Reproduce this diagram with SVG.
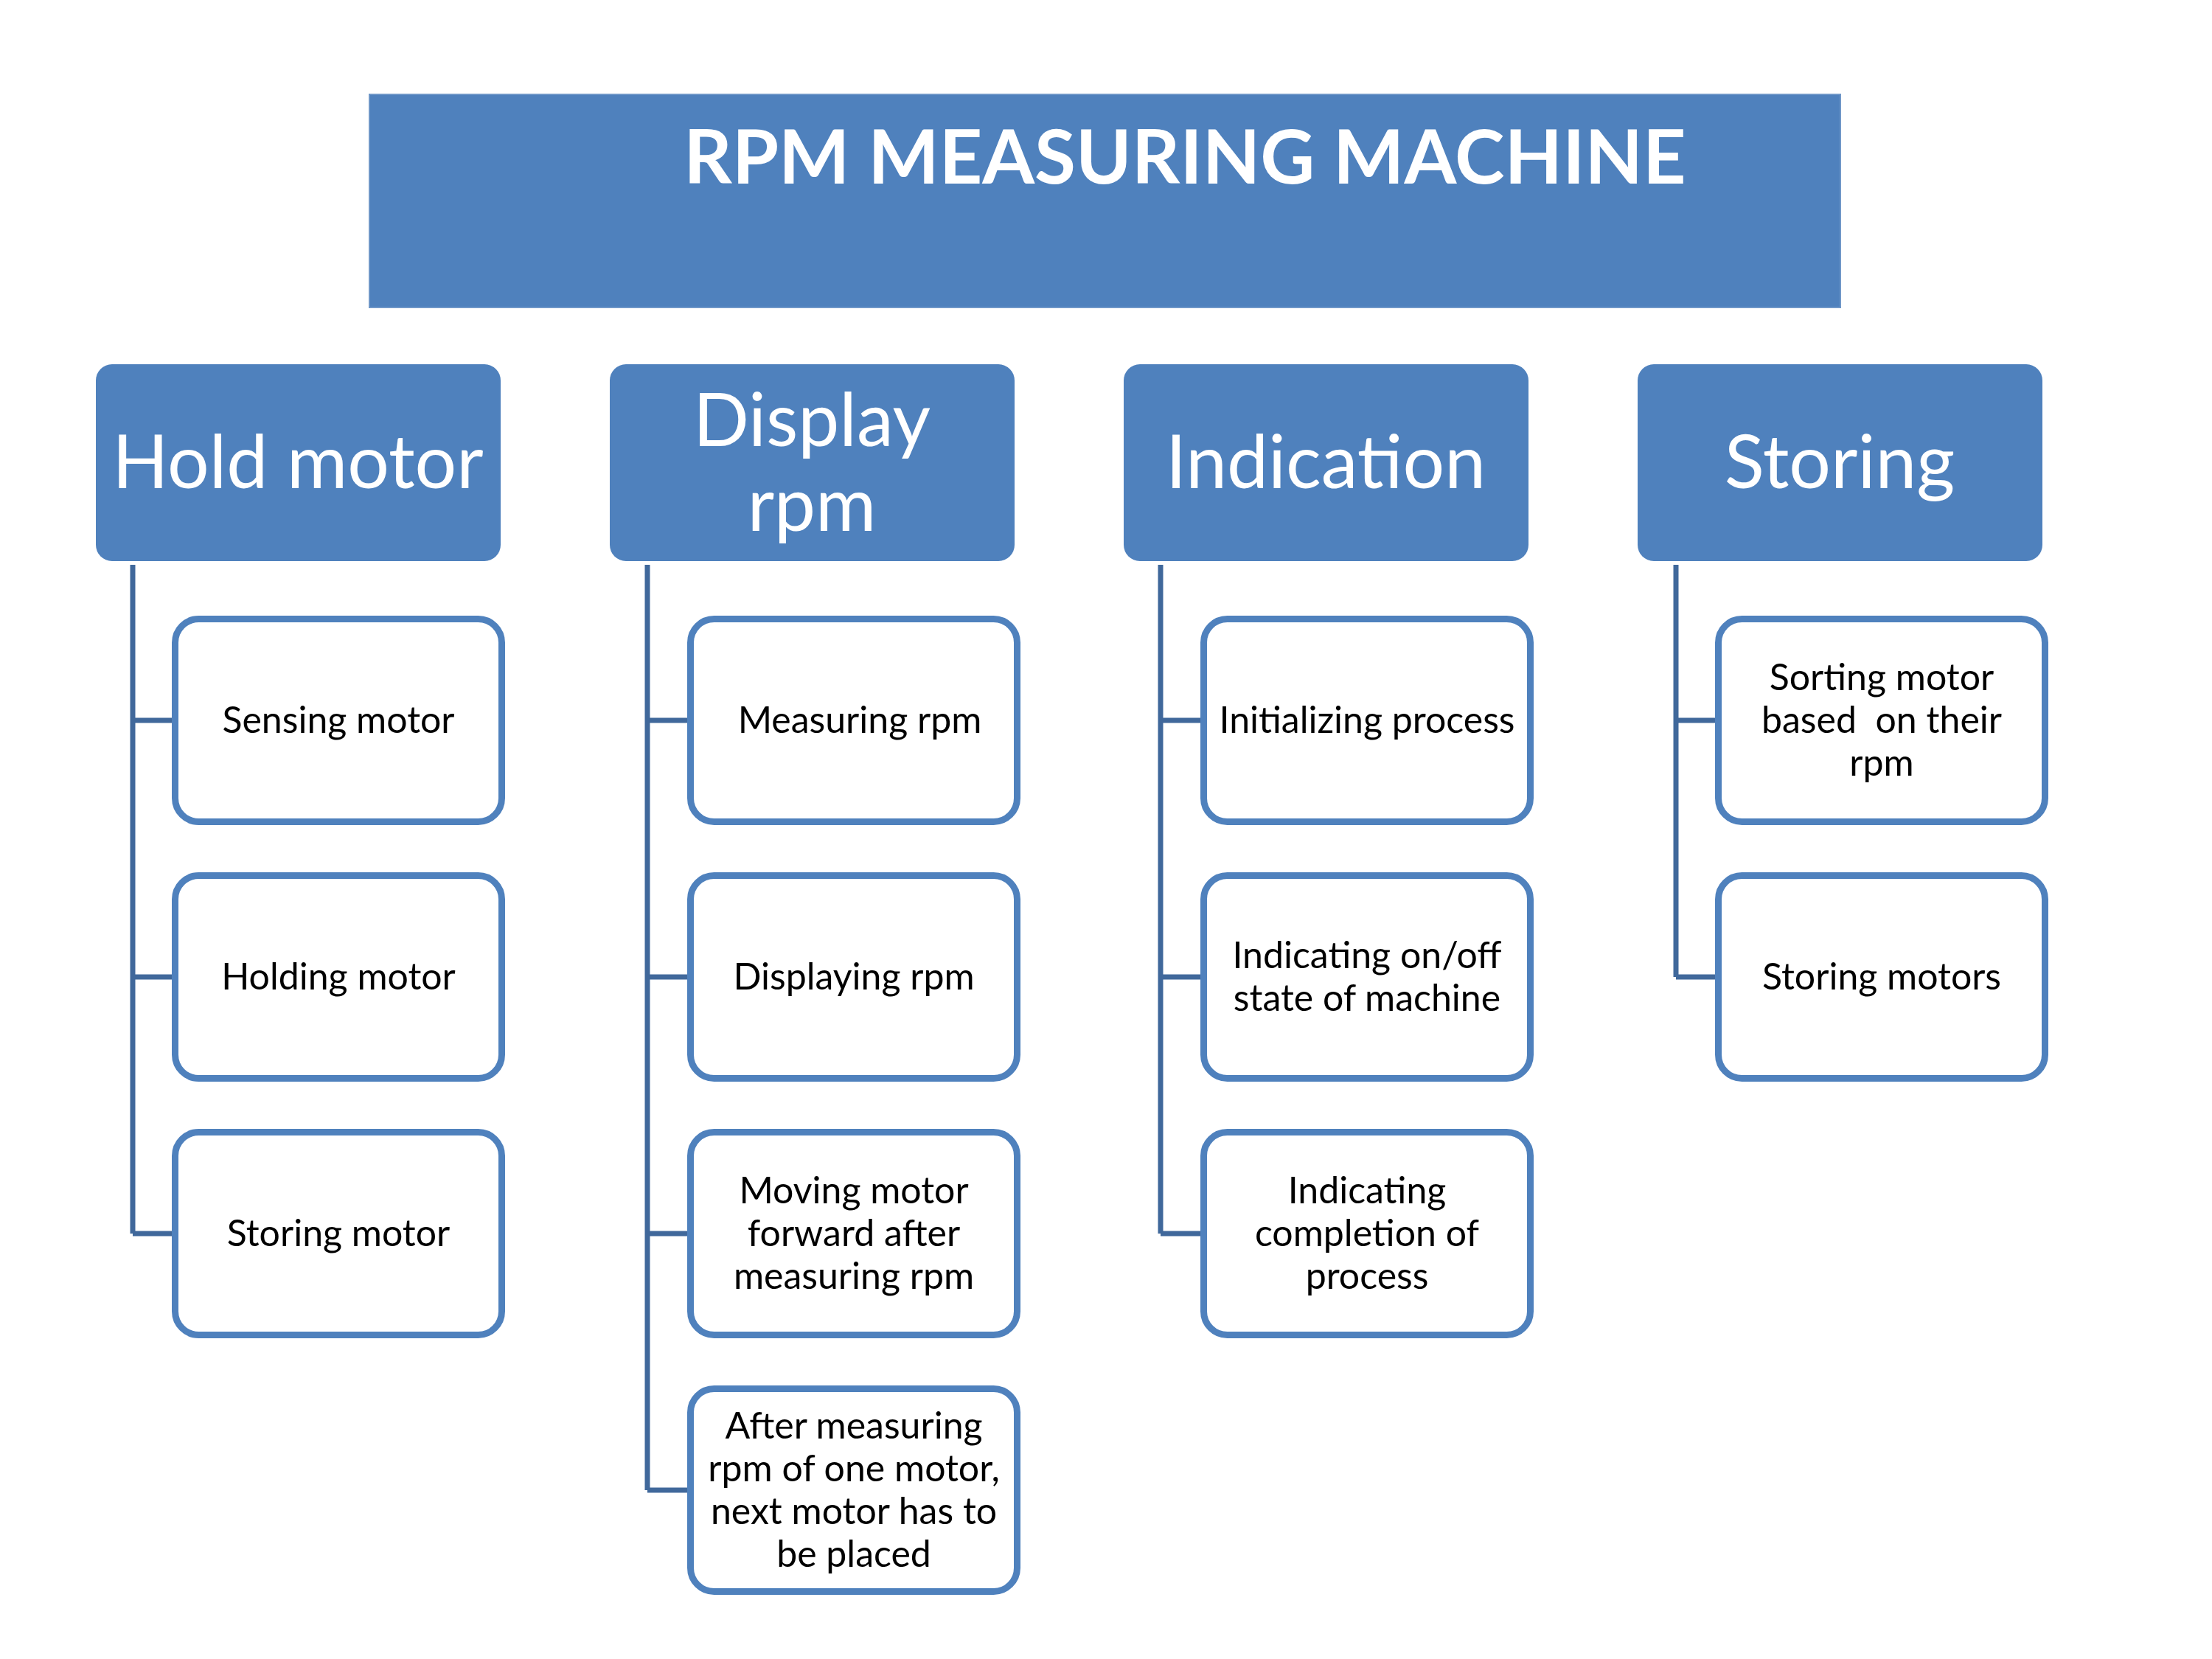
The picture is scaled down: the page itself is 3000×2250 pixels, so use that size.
<svg xmlns="http://www.w3.org/2000/svg" width="3000" height="2250" viewBox="0 0 3000 2250">
<style>
.title{fill:#4F81BD;stroke:#6F97C8;stroke-width:2}
.cat{fill:#4F81BD}
.child{fill:#FFFFFF;stroke:#4F81BD;stroke-width:9}
.conn{fill:none;stroke:#40689B;stroke-width:7;stroke-linejoin:round}
.tt{font-family:Lato,"Noto Sans",sans-serif;font-weight:bold;font-size:102px;fill:#FFFFFF;text-anchor:middle}
.ct{font-family:Lato,"Noto Sans",sans-serif;font-size:100px;fill:#FFFFFF;text-anchor:middle}
.st{font-family:Lato,"Noto Sans",sans-serif;font-size:50px;fill:#000000;text-anchor:middle}
</style>
<rect width="3000" height="2250" fill="#FFFFFF"/>
<g id="connectors">
<path class="conn" d="M180,766 V1673 M180,977 H237 M180,1325 H237 M180,1673 H237"/>
<path class="conn" d="M878,766 V2021 M878,977 H936 M878,1325 H936 M878,1673 H936 M878,2021 H936"/>
<path class="conn" d="M1574,766 V1673 M1574,977 H1632 M1574,1325 H1632 M1574,1673 H1632"/>
<path class="conn" d="M2273,766 V1325 M2273,977 H2330 M2273,1325 H2330"/>
</g>
<g id="title">
<rect class="title" x="501" y="128" width="1995" height="289"/>
<text class="tt" x="1607" y="249">RPM MEASURING MACHINE</text>
</g>
<g id="hold-motor">
<rect class="cat" x="130" y="494" width="549" height="267" rx="22"/>
<text class="ct" x="404" y="662">Hold motor</text>
</g>
<g id="display-rpm">
<rect class="cat" x="827" y="494" width="549" height="267" rx="22"/>
<text class="ct" x="1101" y="605">Display</text>
<text class="ct" x="1101" y="720">rpm</text>
</g>
<g id="indication">
<rect class="cat" x="1524" y="494" width="549" height="267" rx="22"/>
<text class="ct" x="1798" y="662" font-size="102">Indication</text>
</g>
<g id="storing">
<rect class="cat" x="2221" y="494" width="549" height="267" rx="22"/>
<text class="ct" x="2495" y="662" font-size="102">Storing</text>
</g>
<g id="sensing-motor">
<rect class="child" x="237.5" y="839.5" width="443" height="275" rx="32"/>
<text class="st" x="459" y="994">Sensing motor</text>
</g>
<g id="holding-motor">
<rect class="child" x="237.5" y="1187.5" width="443" height="275" rx="32"/>
<text class="st" x="459" y="1342">Holding motor</text>
</g>
<g id="storing-motor">
<rect class="child" x="237.5" y="1535.5" width="443" height="275" rx="32"/>
<text class="st" x="459" y="1690">Storing motor</text>
</g>
<g id="measuring-rpm">
<rect class="child" x="936.5" y="839.5" width="443" height="275" rx="32"/>
<text class="st" x="1166" y="994">Measuring rpm</text>
</g>
<g id="displaying-rpm">
<rect class="child" x="936.5" y="1187.5" width="443" height="275" rx="32"/>
<text class="st" x="1158" y="1342">Displaying rpm</text>
</g>
<g id="moving-motor">
<rect class="child" x="936.5" y="1535.5" width="443" height="275" rx="32"/>
<text class="st" x="1158" y="1632">Moving motor</text>
<text class="st" x="1158" y="1690">forward after</text>
<text class="st" x="1158" y="1748">measuring rpm</text>
</g>
<g id="after-measuring">
<rect class="child" x="936.5" y="1883.5" width="443" height="275" rx="32"/>
<text class="st" x="1158" y="1951">After measuring</text>
<text class="st" x="1158" y="2009">rpm of one motor,</text>
<text class="st" x="1158" y="2067">next motor has to</text>
<text class="st" x="1158" y="2125">be placed</text>
</g>
<g id="initializing-process">
<rect class="child" x="1632.5" y="839.5" width="443" height="275" rx="32"/>
<text class="st" x="1854" y="994">Initializing process</text>
</g>
<g id="indicating-onoff">
<rect class="child" x="1632.5" y="1187.5" width="443" height="275" rx="32"/>
<text class="st" x="1854" y="1313">Indicating on/off</text>
<text class="st" x="1854" y="1371">state of machine</text>
</g>
<g id="indicating-completion">
<rect class="child" x="1632.5" y="1535.5" width="443" height="275" rx="32"/>
<text class="st" x="1854" y="1632">Indicating</text>
<text class="st" x="1854" y="1690">completion of</text>
<text class="st" x="1854" y="1748">process</text>
</g>
<g id="sorting-motor">
<rect class="child" x="2330.5" y="839.5" width="443" height="275" rx="32"/>
<text class="st" x="2552" y="936" xml:space="preserve">Sorting motor</text>
<text class="st" x="2552" y="994" xml:space="preserve">based  on their</text>
<text class="st" x="2552" y="1052">rpm</text>
</g>
<g id="storing-motors">
<rect class="child" x="2330.5" y="1187.5" width="443" height="275" rx="32"/>
<text class="st" x="2552" y="1342">Storing motors</text>
</g>
</svg>
